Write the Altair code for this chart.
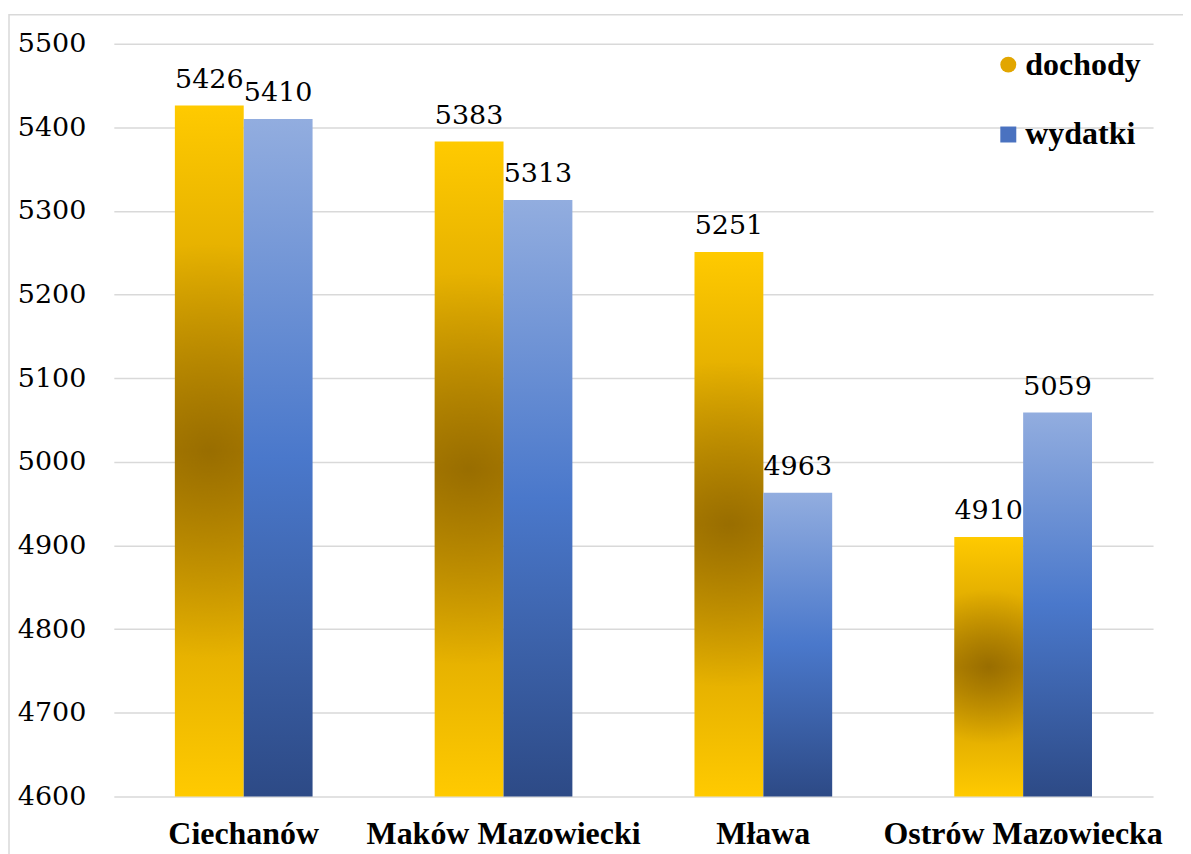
import altair as alt
import pandas as pd

cities = ["Ciechanów", "Maków Mazowiecki", "Mława", "Ostrów Mazowiecka"]
series = ["dochody", "wydatki"]
dochody = [5426, 5383, 5251, 4910]
wydatki = [5410, 5313, 4963, 5059]
y_ticks = [4600, 4700, 4800, 4900, 5000, 5100, 5200, 5300, 5400, 5500]

rows = []
for c, d, w in zip(cities, dochody, wydatki):
    rows.append({"miasto": c, "seria": "dochody", "wartosc": d})
    rows.append({"miasto": c, "seria": "wydatki", "wartosc": w})
df = pd.DataFrame(rows)

FONT = "Liberation Serif"
FONT_R = "DejaVu Serif"
GRID = "#d9d9d9"

x = alt.X("miasto:N", sort=cities,
          scale=alt.Scale(paddingInner=0.47, paddingOuter=0.235),
          axis=alt.Axis(title=None, labelAngle=0, labelFont=FONT, labelFontSize=32,
                        labelFontWeight="bold", labelColor="black", ticks=False,
                        domain=False, labelPadding=22, grid=False, labelLimit=0))
xo = alt.XOffset("seria:N", sort=series,
                 scale=alt.Scale(domain=series, paddingInner=0, paddingOuter=0))
y = alt.Y("wartosc:Q",
          scale=alt.Scale(domain=[4600, 5500], zero=False, nice=False),
          axis=alt.Axis(title=None, values=y_ticks, format="d", labelFont=FONT_R,
                        labelFontSize=27, labelColor="black",
                        ticks=False, domain=False,
                        labelPadding=28, gridColor=GRID, gridWidth=1.5))

base = alt.Chart(df)

gold_linear = alt.LinearGradient(
    gradient="linear", x1=0, x2=0, y1=0, y2=1,
    stops=[alt.GradientStop(offset=0, color="#ffca00"),
           alt.GradientStop(offset=0.5, color="#c49000"),
           alt.GradientStop(offset=1, color="#ffca00")])
gold_spot = alt.RadialGradient(
    gradient="radial", x1=0.5, y1=0.5, r1=0, x2=0.5, y2=0.5, r2=0.3,
    stops=[alt.GradientStop(offset=0, color="rgba(110,75,0,0.5)"),
           alt.GradientStop(offset=1, color="rgba(110,75,0,0)")])
blue_linear = alt.LinearGradient(
    gradient="linear", x1=0, x2=0, y1=0, y2=1,
    stops=[alt.GradientStop(offset=0, color="#92addf"),
           alt.GradientStop(offset=0.5, color="#4a78cb"),
           alt.GradientStop(offset=1, color="#2d4a86")])

bars_d = base.transform_filter(alt.datum.seria == "dochody").mark_bar(fill=gold_linear).encode(
    x=x, xOffset=xo, y=y, y2=alt.datum(4600))
bars_d2 = base.transform_filter(alt.datum.seria == "dochody").mark_bar(fill=gold_spot).encode(
    x=x, xOffset=xo, y=y, y2=alt.datum(4600))
bars_w = base.transform_filter(alt.datum.seria == "wydatki").mark_bar(fill=blue_linear).encode(
    x=x, xOffset=xo, y=y, y2=alt.datum(4600))

labels = base.mark_text(baseline="alphabetic", dy=-18, font=FONT_R, fontSize=27,
                        color="black").encode(x=x, xOffset=xo, y=y, text="wartosc:Q")

leg = dict(title=None, orient="none", legendX=880, legendY=5, symbolSize=256,
           labelFont=FONT, labelFontSize=32, labelFontWeight="bold", labelColor="black",
           rowPadding=38, labelOffset=1, padding=0, symbolOpacity=1, symbolStrokeWidth=0)
legend_pts = base.mark_point(filled=True, opacity=0).encode(
    x=x, xOffset=xo, y=y,
    color=alt.Color("seria:N", sort=series,
                    scale=alt.Scale(domain=series, range=["#e2a600", "#4a72c0"]),
                    legend=alt.Legend(**leg)),
    shape=alt.Shape("seria:N", sort=series,
                    scale=alt.Scale(domain=series, range=["circle", "square"]),
                    legend=alt.Legend(**leg)))

frame = alt.Chart(alt.Data(values=[{"f": 1}])).mark_rect(
    fillOpacity=0, stroke=GRID, strokeWidth=1.5).encode(
    x=alt.value(-105), x2=alt.value(1300), y=alt.value(-29), y2=alt.value(1000))

chart = alt.layer(frame, bars_d, bars_d2, bars_w, labels, legend_pts).properties(
    width=1041, height=754,
    autosize=alt.AutoSizeParams(type="none"),
    padding={"left": 106, "top": 35, "right": 30, "bottom": 57},
    background="white",
).configure_view(stroke=None)

chart.save("out.html", embed_options={"renderer": "svg", "actions": False})
